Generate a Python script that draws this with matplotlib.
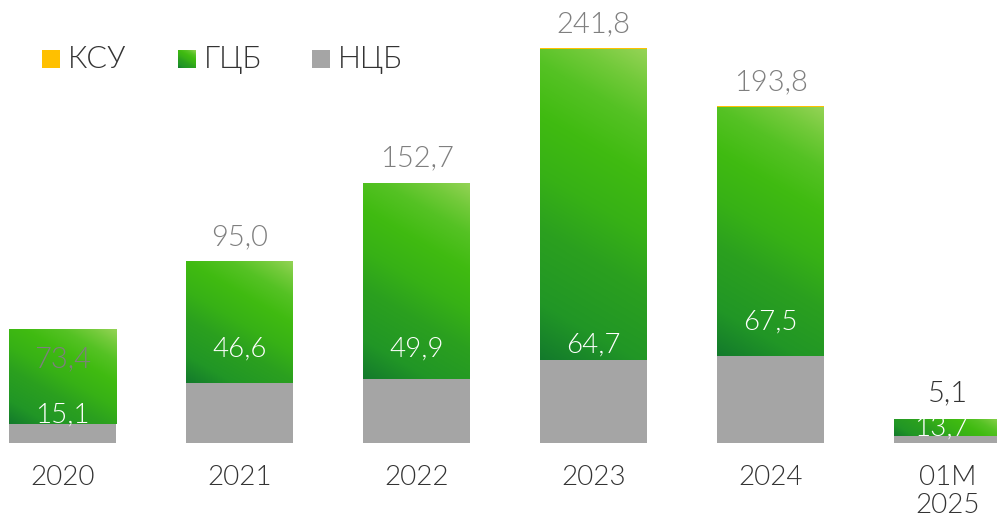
import numpy as np
import matplotlib
matplotlib.use("Agg")
import matplotlib.pyplot as plt
from matplotlib.colors import LinearSegmentedColormap
from matplotlib.patches import Rectangle

# --- data -------------------------------------------------------------
categories = ["2020", "2021", "2022", "2023", "2024", "01M\n2025"]
ncb = [15.1, 46.6, 49.9, 64.7, 67.5, 5.1]        # НЦБ (grey, bottom)
gcb = [73.4, 95.0, 152.7, 241.8, 193.8, 13.7]    # ГЦБ (green, middle)
ksu = [0.0, 0.0, 0.0, 1.0, 1.0, 0.0]             # КСУ (orange, top)

# labels: value written above the bar and value written inside the bar
top_values = [73.4, 95.0, 152.7, 241.8, 193.8, 5.1]
inner_values = [15.1, 46.6, 49.9, 64.7, 67.5, 13.7]

# --- styling ----------------------------------------------------------
plt.rcParams["font.family"] = ["Lato", "DejaVu Sans"]
LIGHT = 300
GREY = "#a5a5a5"
ORANGE = "#ffc000"
LABEL_GREY = "#7f7f7f"
DARK = "#333333"
green_cmap = LinearSegmentedColormap.from_list(
    "gcb", [(0.0, "#137a2c"), (0.15, "#219626"), (0.35, "#2ba01f"),
            (0.5, "#37b116"), (0.66, "#40bb11"), (0.8, "#55c224"),
            (0.9, "#72ca3a"), (1.0, "#95d356")])
GRAD_ANGLE = np.deg2rad(60)

W, H = 997, 520
fig = plt.figure(figsize=(W / 100, H / 100), dpi=100)
base_px = 443
ax = fig.add_axes([0, (H - base_px) / H, 1, base_px / H])
step_px, first_px = 177.0, 62.5
ax.set_xlim(-first_px / step_px, (W - first_px) / step_px)
px_per_unit = 1.285
ax.set_ylim(0, base_px / px_per_unit)
for s in ax.spines.values():
    s.set_visible(False)
ax.set_yticks([])

x = np.arange(len(categories))
width = 107 / step_px
ncb_a, gcb_a, ksu_a = map(np.array, (ncb, gcb, ksu))

ax.bar(x, ncb_a, width=width, color=GREY, zorder=2)
green_bars = ax.bar(x, gcb_a, bottom=ncb_a, width=width,
                    facecolor="none", edgecolor="none", zorder=3)
ax.bar(x, ksu_a, bottom=ncb_a + gcb_a, width=width, color=ORANGE, zorder=3)

# linear gradient in screen space: dark bottom-left, light top-right
def gradient(w_px, h_px, n=300):
    u = np.linspace(0, 1, n)
    uu, vv = np.meshgrid(u, u)
    cx, cy = np.cos(GRAD_ANGLE), np.sin(GRAD_ANGLE)
    t = uu * w_px * cx + vv * h_px * cy
    return t / (w_px * cx + h_px * cy)

for bar in green_bars:
    bx, by = bar.get_x(), bar.get_y()
    bw, bh = bar.get_width(), bar.get_height()
    w_px, h_px = bw * step_px, bh * px_per_unit
    im = ax.imshow(gradient(w_px, h_px), cmap=green_cmap, vmin=0, vmax=1,
                   origin="lower", extent=(bx, bx + bw, by, by + bh),
                   aspect="auto", interpolation="bilinear", zorder=3)
    im.set_clip_path(bar)

# value labels
totals = ncb_a + gcb_a + ksu_a
above_gap = 16 / px_per_unit
for i in range(len(x)):
    if i == 0:
        y_top, col = 59.1, LABEL_GREY          # sits inside the short first bar
    elif i == len(x) - 1:
        y_top, col = totals[i] + 18 / px_per_unit, DARK
    else:
        y_top, col = totals[i] + above_gap, LABEL_GREY
    ax.text(x[i], y_top, f"{top_values[i]:.1f}".replace(".", ","),
            ha="center", va="baseline", fontsize=21, color=col,
            fontweight=LIGHT, zorder=5)

inner_y = [15.6, 66.9, 66.9, 70.0, 87.9, 5.4]
for i in range(len(x)):
    ax.text(x[i] - (0.035 if i == len(x) - 1 else 0), inner_y[i],
            f"{inner_values[i]:.1f}".replace(".", ","),
            ha="center", va="baseline", fontsize=20, color="white",
            fontweight=LIGHT, zorder=5)

ax.set_xticks(x)
ax.set_xticklabels(categories, fontsize=20, color=DARK, linespacing=1.15,
                   fontweight=LIGHT)
ax.tick_params(axis="x", length=0, pad=16)

# legend drawn in figure pixels
def fig_box(px, py, w, h):
    return [px / W, 1 - (py + h) / H, w / W, h / H]

legend_items = [("КСУ", ORANGE, 42), ("ГЦБ", None, 178), ("НЦБ", GREY, 312)]
for name, col, lx in legend_items:
    if col is None:
        sq = fig.add_axes(fig_box(lx, 50, 18, 18))
        sq.imshow(gradient(18, 18), cmap=green_cmap, vmin=0, vmax=1,
                  origin="lower", aspect="auto", interpolation="bilinear")
        sq.axis("off")
    else:
        fig.patches.append(Rectangle((lx / W, 1 - 68 / H), 18 / W, 18 / H,
                                     transform=fig.transFigure,
                                     facecolor=col, edgecolor="none"))
    fig.text((lx + 26) / W, 1 - 68 / H, name, fontsize=22, color=DARK,
             fontweight=LIGHT, ha="left", va="baseline")

fig.savefig("out.png", dpi=100)
